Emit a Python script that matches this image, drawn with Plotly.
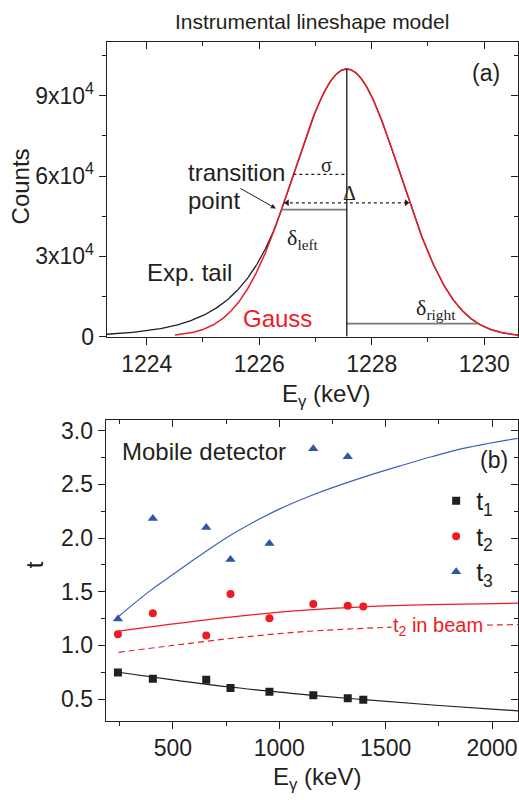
import numpy as np
import plotly.graph_objects as go

FONT = "Liberation Sans, Arial, sans-serif"
SERIF = "Liberation Serif, Times New Roman, serif"
INK = "#231f20"
RED = "#ed1c24"
BLUE = "#2f55a4"
GRAY = "#7a7a7a"

W, H = 519, 800

# ---------------- panel (a): instrumental lineshape model ----------------
peak_counts = 1.0e5        # counts at the centroid
centroid = 1227.557        # keV
sigma = 0.95               # keV
tail_offset = 1.16         # transition point, keV below the centroid
gauss_from = 1224.5        # where the plain Gaussian is drawn from
delta_right_level = 4870   # counts level of the delta_right marker
e_range_a = [1223.29, 1230.6]
counts_range = [0, 110000]
counts_ticks = [0, 30000, 60000, 90000]
counts_ticktext = ["0", "3x10<sup>4</sup>", "6x10<sup>4</sup>", "9x10<sup>4</sup>"]
energy_ticks_a = [1224, 1226, 1228, 1230]

# ---------------- panel (b): tail parameters vs energy ----------------
energies = [242, 406, 657, 771, 954, 1160, 1322, 1395]
t1 = [0.747, 0.690, 0.680, 0.604, 0.568, 0.537, 0.509, 0.494]
t2 = [1.103, 1.299, 1.092, 1.479, 1.253, 1.385, 1.369, 1.363]
energies_t3 = [242, 406, 657, 771, 954, 1160, 1322]
t3 = [1.247, 2.183, 2.098, 1.800, 1.949, 2.833, 2.757]

fit_E3 = [245, 400, 500, 600, 758, 900, 1000, 1142, 1250, 1408, 1564, 1720, 1877, 2123]
fit_t3 = [1.27, 1.52, 1.66, 1.80, 2.01, 2.17, 2.27, 2.39, 2.47, 2.575, 2.67, 2.76, 2.84, 2.93]
fit_E = [245, 500, 758, 1000, 1142, 1400, 1720, 2123]
fit_t2 = [1.134, 1.20, 1.262, 1.31, 1.332, 1.36, 1.38, 1.394]
fit_t2_beam = [0.936, 1.0, 1.062, 1.11, 1.132, 1.16, 1.18, 1.194]
fit_t1 = [0.75, 0.68, 0.615, 0.565, 0.537, 0.495, 0.445, 0.39]
e_range_b = [185, 2122]
t_range = [0.3, 3.1]

# lineshape: Gaussian with an exponential low-energy tail joined smoothly
E = np.linspace(e_range_a[0], e_range_a[1], 900)
gauss = peak_counts * np.exp(-0.5 * ((E - centroid) / sigma) ** 2)
x_t = centroid - tail_offset
g_t = peak_counts * np.exp(-0.5 * (tail_offset / sigma) ** 2)
slope = tail_offset / sigma ** 2
model = np.where(E < x_t, g_t * np.exp(slope * (E - x_t)), gauss)
mask = E >= gauss_from

half = sigma * np.sqrt(2 * np.log(2))
sig_level = peak_counts * np.exp(-0.5)
right_off = sigma * np.sqrt(-2 * np.log(delta_right_level / peak_counts))

fig = go.Figure()

fig.add_trace(go.Scatter(x=E, y=model, mode="lines", line=dict(color=INK, width=1.3),
                         showlegend=False, hoverinfo="skip"))
fig.add_trace(go.Scatter(x=E[mask], y=gauss[mask], mode="lines", line=dict(color=RED, width=1.5),
                         showlegend=False, hoverinfo="skip"))
# delta_left / delta_right levels
fig.add_trace(go.Scatter(x=[x_t, centroid], y=[g_t, g_t], mode="lines",
                         line=dict(color=GRAY, width=1.8), showlegend=False, hoverinfo="skip"))
fig.add_trace(go.Scatter(x=[centroid, centroid + right_off], y=[delta_right_level] * 2, mode="lines",
                         line=dict(color=GRAY, width=1.8), showlegend=False, hoverinfo="skip"))
# centroid line
fig.add_trace(go.Scatter(x=[centroid, centroid], y=[0, peak_counts], mode="lines",
                         line=dict(color="#000000", width=1.2), showlegend=False, hoverinfo="skip"))
# sigma marker
fig.add_trace(go.Scatter(x=[centroid - sigma, centroid], y=[sig_level, sig_level], mode="lines",
                         line=dict(color=INK, width=1.2, dash="dot"), showlegend=False, hoverinfo="skip"))
# FWHM (Delta) marker with arrowheads
fig.add_trace(go.Scatter(x=[centroid - half, centroid + half], y=[peak_counts / 2] * 2, mode="lines",
                         line=dict(color=INK, width=1.2, dash="dot"), showlegend=False, hoverinfo="skip"))
fig.add_trace(go.Scatter(x=[centroid - half + 0.06, centroid + half - 0.06], y=[peak_counts / 2] * 2,
                         mode="markers", marker=dict(symbol=["triangle-left", "triangle-right"], size=6, color=INK),
                         showlegend=False, hoverinfo="skip"))

# ---------------- panel (b) traces ----------------
fig.add_trace(go.Scatter(x=fit_E3, y=fit_t3, mode="lines", line=dict(color="#3d62b8", width=1.2, shape="spline"),
                         xaxis="x2", yaxis="y2", showlegend=False, hoverinfo="skip"))
fig.add_trace(go.Scatter(x=fit_E, y=fit_t2, mode="lines", line=dict(color=RED, width=1.3, shape="spline"),
                         xaxis="x2", yaxis="y2", showlegend=False, hoverinfo="skip"))
fig.add_trace(go.Scatter(x=fit_E, y=fit_t2_beam, mode="lines",
                         line=dict(color=RED, width=1.2, shape="spline", dash="6px,4px"),
                         xaxis="x2", yaxis="y2", showlegend=False, hoverinfo="skip"))
fig.add_trace(go.Scatter(x=fit_E, y=fit_t1, mode="lines", line=dict(color=INK, width=1.2, shape="spline"),
                         xaxis="x2", yaxis="y2", showlegend=False, hoverinfo="skip"))

fig.add_trace(go.Scatter(x=energies, y=t1, mode="markers", name="t<sub>1</sub>",
                         marker=dict(symbol="square", size=8, color=INK),
                         xaxis="x2", yaxis="y2"))
fig.add_trace(go.Scatter(x=energies, y=t2, mode="markers", name="t<sub>2</sub>",
                         marker=dict(symbol="circle", size=8, color=RED),
                         xaxis="x2", yaxis="y2"))
fig.add_trace(go.Scatter(x=energies_t3, y=t3, mode="markers", name="t<sub>3</sub>",
                         marker=dict(symbol="triangle-up", size=9, color=BLUE),
                         xaxis="x2", yaxis="y2"))

# empty traces so the mirrored tick axes are drawn
for xa, ya in [("x3", "y"), ("x", "y3"), ("x4", "y2"), ("x2", "y4")]:
    fig.add_trace(go.Scatter(x=[], y=[], xaxis=xa, yaxis=ya, showlegend=False, hoverinfo="skip"))

dom_a_x = [107 / W, 1.0]
dom_a_y = [1 - 341 / H, 1 - 41 / H]
dom_b_x = [106 / W, 1.0]
dom_b_y = [1 - 732.3 / H, 1 - 426 / H]

tickfont = dict(family=FONT, size=23, color=INK)
common = dict(showgrid=False, zeroline=False, linecolor=INK, linewidth=1.4, tickcolor=INK,
              tickwidth=1.2, ticklen=7, tickfont=tickfont)

fig.update_layout(
    width=W, height=H, margin=dict(l=0, r=0, t=0, b=0),
    paper_bgcolor="white", plot_bgcolor="white",
    font=dict(family=FONT, color=INK),
    xaxis=dict(domain=dom_a_x, anchor="y", range=e_range_a, tickvals=energy_ticks_a, ticks="outside",
               showline=True, mirror=True,
               minor=dict(dtick=1, tick0=1223, ticks="outside", ticklen=4, tickcolor=INK), **common),
    yaxis=dict(domain=dom_a_y, anchor="x", range=counts_range, tickvals=counts_ticks,
               ticktext=counts_ticktext, ticks="outside", showline=True, mirror=True,
               minor=dict(dtick=15000, tick0=0, ticks="outside", ticklen=4, tickcolor=INK), **common),
    xaxis3=dict(overlaying="x", anchor="y", side="top", range=e_range_a, tickvals=energy_ticks_a,
                ticks="inside", showticklabels=False, showline=False,
                minor=dict(dtick=1, tick0=1223, ticks="inside", ticklen=4, tickcolor=INK),
                showgrid=False, zeroline=False, tickcolor=INK, ticklen=7, tickwidth=1.2),
    yaxis3=dict(overlaying="y", anchor="x", side="right", range=counts_range, tickvals=counts_ticks,
                ticks="inside", showticklabels=False, showline=False,
                minor=dict(dtick=15000, tick0=0, ticks="inside", ticklen=4, tickcolor=INK),
                showgrid=False, zeroline=False, tickcolor=INK, ticklen=7, tickwidth=1.2),
    xaxis2=dict(domain=dom_b_x, anchor="y2", range=e_range_b, dtick=500, tick0=0, ticks="outside",
                showline=True, mirror=True,
                minor=dict(dtick=250, tick0=0, ticks="outside", ticklen=4, tickcolor=INK), **common),
    yaxis2=dict(domain=dom_b_y, anchor="x2", range=t_range, dtick=0.5, tick0=0, tickformat=".1f",
                ticks="outside", showline=True, mirror=True,
                minor=dict(dtick=0.25, tick0=0, ticks="outside", ticklen=4, tickcolor=INK), **common),
    xaxis4=dict(overlaying="x2", anchor="y2", side="top", range=e_range_b, dtick=500, tick0=0,
                ticks="inside", showticklabels=False, showline=False,
                minor=dict(dtick=250, tick0=0, ticks="inside", ticklen=4, tickcolor=INK),
                showgrid=False, zeroline=False, tickcolor=INK, ticklen=7, tickwidth=1.2),
    yaxis4=dict(overlaying="y2", anchor="x2", side="right", range=t_range, dtick=0.5, tick0=0,
                ticks="inside", showticklabels=False, showline=False,
                minor=dict(dtick=0.25, tick0=0, ticks="inside", ticklen=4, tickcolor=INK),
                showgrid=False, zeroline=False, tickcolor=INK, ticklen=7, tickwidth=1.2),
    legend=dict(x=437 / W, y=1 - 485 / H, xanchor="left", yanchor="top",
                bgcolor="rgba(0,0,0,0)", font=dict(family=FONT, size=25, color=INK),
                itemwidth=30, tracegroupgap=0),
    showlegend=True,
)


def note(text, x, y, size=24, color=INK, xref="paper", yref="paper", xanchor="center",
         yanchor="middle", family=FONT, **kw):
    fig.add_annotation(text=text, x=x, y=y, xref=xref, yref=yref, xanchor=xanchor, yanchor=yanchor,
                       showarrow=False, font=dict(family=family, size=size, color=color), **kw)


E_LABEL = "E<sub>γ</sub> (keV)"

# titles and axis labels
note("Instrumental lineshape model", 313 / W, 1 - 20 / H, size=21)
note("Counts", 21 / W, 1 - 188 / H, textangle=-90)
note(E_LABEL, 327 / W, 1 - 393 / H, yshift=-8)
note("t", 34 / W, 1 - 573 / H, textangle=-90)
note(E_LABEL, 318 / W, 1 - 783 / H, yshift=-8)

# panel (a) labels
note("(a)", 1230.04, 98400, xref="x", yref="y", size=23)
note("transition", 1224.69, 61500, xref="x", yref="y", xanchor="left")
note("point", 1224.69, 51000, xref="x", yref="y", xanchor="left")
note("Exp. tail", 1224.76, 24100, xref="x", yref="y")
note("Gauss", 1226.33, 6950, xref="x", yref="y", color=RED)
note("σ", 1227.2, 64300, xref="x", yref="y", size=20, family=SERIF)
note("Δ", 1227.61, 53500, xref="x", yref="y", size=20, family=SERIF)
note("δ<sub>left</sub>", 1226.78, 36500, xref="x", yref="y", size=22, family=SERIF)
note("δ<sub>right</sub>", 1229.15, 10200, xref="x", yref="y", size=22, family=SERIF)
fig.add_annotation(x=x_t - 0.1, y=g_t + 400, xref="x", yref="y", ax=-37, ay=-21, text="",
                   showarrow=True, arrowhead=2, arrowsize=1, arrowwidth=1, arrowcolor=INK)

# panel (b) labels
note("Mobile detector", 250, 2.81, xref="x2", yref="y2", xanchor="left")
note("(b)", 2010, 2.725, xref="x2", yref="y2", size=23)
note("t<sub>2</sub> in beam", 1747, 1.18, xref="x2", yref="y2", size=20, color=RED,
     bgcolor="white", borderpad=1)

fig.write_html("out.html")
